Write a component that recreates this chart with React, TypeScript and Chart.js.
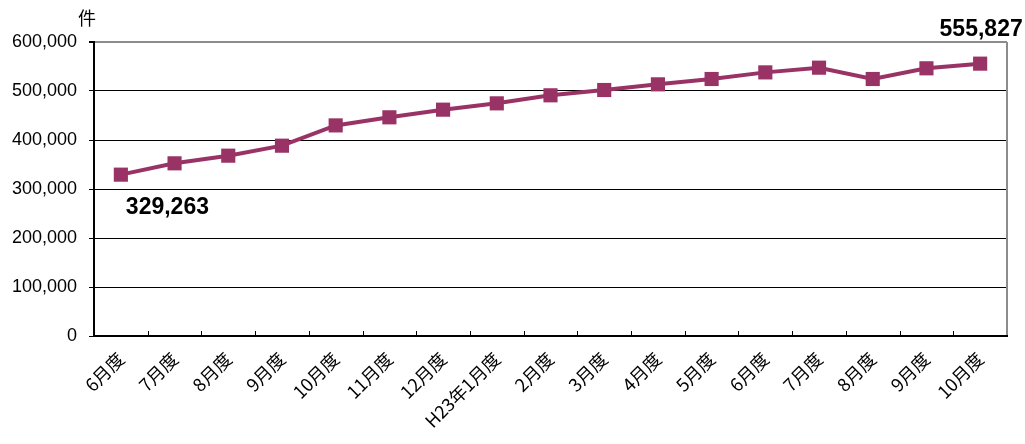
import React, { useEffect, useRef } from "react";
import { Chart, registerables } from "chart.js";

Chart.register(...registerables);

const categories: string[] = [
  "6月度", "7月度", "8月度", "9月度", "10月度", "11月度", "12月度", "H23年1月度",
  "2月度", "3月度", "4月度", "5月度", "6月度", "7月度", "8月度", "9月度", "10月度",
];
const values: number[] = [
  329263, 352400, 368000, 388400, 429800, 446300, 461900, 474800,
  491200, 502000, 513600, 524500, 538000, 547600, 524500, 546300, 555827,
];
const yMin = 0;
const yMax = 600000;
const yStep = 100000;
const unitLabel = "件";
const annotatedIndices: number[] = [0, values.length - 1];

const LINE_COLOR = "#993366";

const fmt = (v: number) => v.toLocaleString("en-US");

const decorPlugin = {
  id: "decor",
  afterDraw(chart: any) {
    const { ctx, chartArea } = chart;
    const xs = chart.scales.x;
    ctx.save();
    // right border (gray)
    ctx.strokeStyle = "#8c8c8c";
    ctx.lineWidth = 2;
    ctx.beginPath();
    ctx.moveTo(chartArea.right, chartArea.top);
    ctx.lineTo(chartArea.right, chartArea.bottom);
    ctx.stroke();
    // bottom axis (black)
    ctx.strokeStyle = "#000";
    ctx.lineWidth = 2;
    ctx.beginPath();
    ctx.moveTo(chartArea.left, chartArea.bottom);
    ctx.lineTo(chartArea.right + 1, chartArea.bottom);
    ctx.stroke();
    // inner tick marks at category boundaries
    ctx.lineWidth = 1;
    const n = categories.length;
    for (let i = 1; i < n; i++) {
      const x = Math.round((xs.getPixelForValue(i - 1) + xs.getPixelForValue(i)) / 2) + 0.5;
      ctx.beginPath();
      ctx.moveTo(x, chartArea.bottom);
      ctx.lineTo(x, chartArea.bottom - 5);
      ctx.stroke();
    }
    // unit label
    ctx.fillStyle = "#000";
    ctx.font = '18px "Noto Sans CJK JP", sans-serif';
    ctx.textAlign = "center";
    ctx.textBaseline = "middle";
    ctx.fillText(unitLabel, chartArea.left - 7, chartArea.top - 24);
    // value annotations
    const meta = chart.getDatasetMeta(0);
    ctx.font = 'bold 23px "Liberation Sans", Arial, sans-serif';
    annotatedIndices.forEach((idx, k) => {
      const pt = meta.data[idx];
      if (!pt) return;
      const text = fmt(values[idx]);
      if (k === 0) {
        ctx.textAlign = "left";
        ctx.textBaseline = "top";
        ctx.fillText(text, pt.x + 5, pt.y + 21);
      } else {
        ctx.textAlign = "center";
        ctx.textBaseline = "bottom";
        ctx.fillText(text, pt.x + 1, pt.y - 22);
      }
    });
    ctx.restore();
  },
};

export default function App() {
  const ref = useRef<HTMLCanvasElement | null>(null);

  useEffect(() => {
    document.body.style.margin = "0";
    const canvas = ref.current;
    if (!canvas) return;
    const chart = new Chart(canvas, {
      type: "line",
      data: {
        labels: categories,
        datasets: [
          {
            data: values,
            borderColor: LINE_COLOR,
            backgroundColor: LINE_COLOR,
            borderWidth: 4,
            pointStyle: "rect",
            pointRadius: 10,
            pointHoverRadius: 10,
            pointBorderWidth: 0,
            tension: 0,
          },
        ],
      },
      options: {
        animation: false,
        responsive: false,
        devicePixelRatio: 1,
        layout: { padding: { top: 42, right: 18, left: 0, bottom: 0 } },
        plugins: { legend: { display: false }, tooltip: { enabled: false } },
        scales: {
          x: {
            offset: true,
            grid: { display: false },
            border: { display: false },
            ticks: {
              maxRotation: 45,
              minRotation: 45,
              autoSkip: false,
              padding: 4,
              color: "#000",
              font: { family: '"Noto Sans CJK JP", sans-serif', size: 18 },
            },
            afterFit(scale: any) {
              scale.height = 108;
            },
          },
          y: {
            min: yMin,
            max: yMax,
            ticks: {
              stepSize: yStep,
              color: "#000",
              padding: 12,
              font: { family: '"Liberation Sans", Arial, sans-serif', size: 18 },
              callback: (v: any) => fmt(Number(v)),
            },
            grid: {
              color: (c: any) => (c.tick && c.tick.value === yMax ? "#8c8c8c" : "#000"),
              lineWidth: (c: any) => (c.tick && c.tick.value === yMax ? 2 : 1),
              drawTicks: true,
              tickLength: 5,
              tickColor: "#000",
            },
            border: { display: true, color: "#000", width: 2 },
            afterFit(scale: any) {
              scale.width = 94;
            },
          },
        },
      },
      plugins: [decorPlugin],
    });
    return () => chart.destroy();
  }, []);

  return <canvas ref={ref} width={1025} height={444} style={{ display: "block" }} />;
}
